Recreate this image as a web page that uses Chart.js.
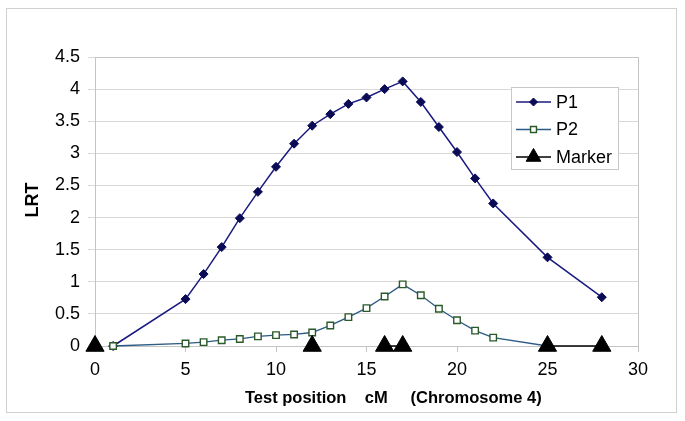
<!DOCTYPE html>
<html>
<head>
<meta charset="utf-8">
<script src="https://cdn.jsdelivr.net/npm/chart.js@4/dist/chart.umd.min.js"></script>
<style>
    html, body { margin: 0; padding: 0; background: #fff; }
    #wrap { width: 685px; height: 421px; position: relative; }
</style>
</head>
<body>
<div id="wrap"><canvas id="lrtChart" width="685" height="421"></canvas></div>
<script>
// positions along the chromosome (cM)
const p1Pos = [1, 5, 6, 7, 8, 9, 10, 11, 12, 13, 14, 15, 16, 17, 18, 19, 20, 21, 22, 25, 28];
const p1Lrt = [0, 0.73, 1.12, 1.54, 1.99, 2.4, 2.79, 3.15, 3.43, 3.61, 3.77, 3.87, 4.0, 4.12, 3.8, 3.41, 3.02, 2.61, 2.22, 1.38, 0.76];

const p2Pos = [1, 5, 6, 7, 8, 9, 10, 11, 12, 13, 14, 15, 16, 17, 18, 19, 20, 21, 22, 25];
const p2Lrt = [0, 0.04, 0.06, 0.09, 0.11, 0.15, 0.17, 0.18, 0.21, 0.32, 0.45, 0.59, 0.77, 0.96, 0.79, 0.58, 0.4, 0.24, 0.13, 0];

const markerPos = [0, 12, 16, 17, 25, 28];
const markerLrt = [0, 0, 0, 0, 0, 0];
// which gaps between consecutive markers are joined by a line
const markerJoin = [false, false, true, false, true];

const xTickLabels = ['0', '5', '10', '15', '20', '25', '30'];
const yTickLabels = ['0', '0.5', '1', '1.5', '2', '2.5', '3', '3.5', '4', '4.5'];

const FONT = 'Liberation Sans, Arial, sans-serif';

const toPoints = (xs, ys) => xs.map((x, i) => ({ x: x, y: ys[i] }));

// frame, plot border, axis titles and the boxed legend
const decorPlugin = {
    id: 'decor',
    beforeDraw(chart) {
        const c = chart.ctx;
        c.save();
        c.fillStyle = '#fff';
        c.fillRect(0, 0, chart.width, chart.height);
        c.strokeStyle = '#d0d0d0';
        c.lineWidth = 1;
        c.strokeRect(6.5, 8.5, 670, 404);
        c.restore();
    },
    beforeDatasetsDraw(chart) {
        const a = chart.chartArea;
        const c = chart.ctx;
        c.save();
        c.strokeStyle = '#c4c4c4';
        c.lineWidth = 1;
        c.strokeRect(Math.round(a.left) + 0.5, Math.round(a.top) + 0.5, Math.round(a.right - a.left), Math.round(a.bottom - a.top));
        c.restore();
    },
    afterDraw(chart) {
        const c = chart.ctx;
        c.save();
        c.fillStyle = '#000';
        c.textBaseline = 'middle';

        // y title
        c.save();
        c.font = 'bold 18px ' + FONT;
        c.translate(33, 200);
        c.rotate(-Math.PI / 2);
        c.textAlign = 'center';
        c.fillText('LRT', 0, 0);
        c.restore();

        // x title
        c.font = 'bold 16.5px ' + FONT;
        c.textAlign = 'left';
        c.fillText('Test position    cM     (Chromosome 4)', 245, 398);

        // legend
        const lx = 511, ly = 87, lw = 107, lh = 82;
        c.fillStyle = '#fff';
        c.fillRect(lx, ly, lw, lh);
        c.strokeStyle = '#c8c8c8';
        c.lineWidth = 1;
        c.strokeRect(lx + 0.5, ly + 0.5, lw, lh);

        const rows = chart.data.datasets;
        c.font = '18px ' + FONT;
        rows.forEach((ds, i) => {
            const y = 102 + i * 27.5;
            c.strokeStyle = ds.legendLine;
            c.lineWidth = ds.borderWidth;
            c.beginPath();
            c.moveTo(516, y);
            c.lineTo(551, y);
            c.stroke();
            c.fillStyle = ds.pointBackgroundColor;
            c.strokeStyle = ds.pointBorderColor;
            c.lineWidth = ds.pointBorderWidth;
            Chart.helpers.drawPoint(c, {
                pointStyle: ds.pointStyle,
                radius: ds.legendRadius,
                borderWidth: ds.pointBorderWidth,
                rotation: 0
            }, 533.5, y);
            c.fillStyle = '#000';
            c.fillText(ds.label, 556, y + 1);
        });
        c.restore();
    }
};

const ctx = document.getElementById('lrtChart').getContext('2d');

const lrtChart = new Chart(ctx, {
    type: 'line',
    data: {
        datasets: [
            {
                label: 'P1',
                data: toPoints(p1Pos, p1Lrt),
                borderColor: '#1a1a80',
                legendLine: '#1a1a80',
                borderWidth: 1.5,
                pointStyle: 'rectRot',
                pointRadius: 4.5,
                legendRadius: 4,
                pointBackgroundColor: '#0b0b55',
                pointBorderColor: '#0b0b55',
                pointBorderWidth: 1,
                tension: 0,
                clip: false,
                order: 2
            },
            {
                label: 'P2',
                data: toPoints(p2Pos, p2Lrt),
                borderColor: '#2b5a84',
                legendLine: '#2b5a84',
                borderWidth: 1.3,
                pointStyle: 'rect',
                pointRadius: 4.6,
                legendRadius: 4.2,
                pointBackgroundColor: '#ffffff',
                pointBorderColor: '#2a5a2a',
                pointBorderWidth: 1.4,
                tension: 0,
                clip: false,
                order: 1
            },
            {
                label: 'Marker',
                data: toPoints(markerPos, markerLrt),
                borderColor: '#000',
                legendLine: '#000',
                borderWidth: 1.5,
                segment: {
                    borderColor: s => markerJoin[s.p0DataIndex] ? '#000' : 'rgba(0,0,0,0)'
                },
                pointStyle: 'triangle',
                pointRadius: 10.5,
                legendRadius: 8.5,
                pointBackgroundColor: '#000',
                pointBorderColor: '#000',
                pointBorderWidth: 1,
                tension: 0,
                clip: false,
                order: 0
            }
        ]
    },
    options: {
        responsive: false,
        animation: false,
        events: [],
        layout: { padding: { left: 0, top: 57, right: 47, bottom: 15 } },
        scales: {
            x: {
                type: 'linear',
                min: 0,
                max: 30,
                ticks: {
                    stepSize: 5,
                    padding: 7,
                    color: '#000',
                    font: { family: FONT, size: 18 },
                    maxRotation: 0,
                    callback: v => xTickLabels[Math.round(v / 5)]
                },
                grid: { drawOnChartArea: false, drawTicks: true, tickLength: 6, color: '#c4c4c4' },
                border: { color: '#c4c4c4' },
                afterFit: s => { s.height = 60; }
            },
            y: {
                min: 0,
                max: 4.5,
                ticks: {
                    stepSize: 0.5,
                    padding: 8,
                    color: '#000',
                    font: { family: FONT, size: 18 },
                    callback: v => yTickLabels[Math.round(v * 2)]
                },
                grid: { color: '#d8d8d8', tickLength: 7 },
                border: { color: '#c4c4c4' },
                afterFit: s => { s.width = 95; }
            }
        },
        plugins: {
            legend: { display: false },
            tooltip: { enabled: false }
        }
    },
    plugins: [decorPlugin]
});
</script>
</body>
</html>
